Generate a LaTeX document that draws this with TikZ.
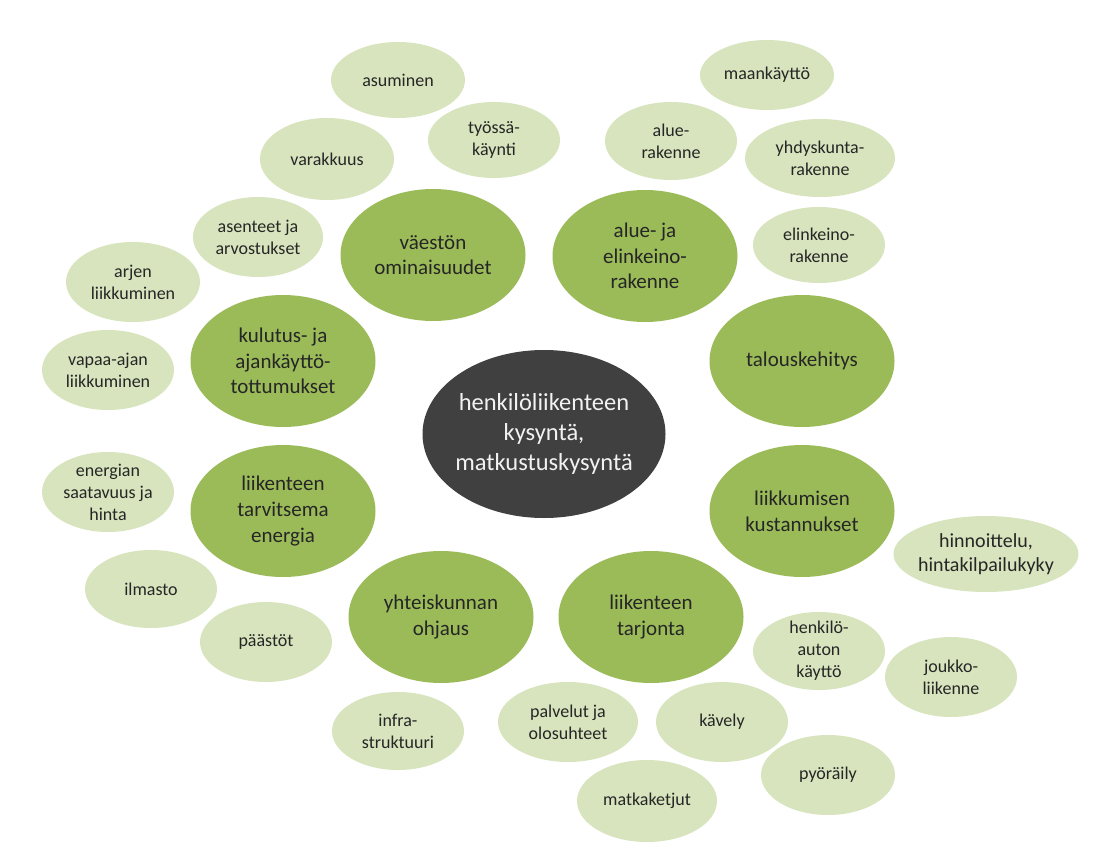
\documentclass[tikz,border=0pt]{standalone}
\usepackage{fontspec}
\setmainfont{Carlito}
\usetikzlibrary{shapes.geometric}
\definecolor{biggreen}{HTML}{9BBB59}
\definecolor{lightgreen}{HTML}{D7E4BD}
\definecolor{darkcore}{HTML}{404040}
\definecolor{inktext}{HTML}{262626}
\tikzset{
  blob/.style 2 args={ellipse, inner xsep=-6pt, inner ysep=-6pt, align=center,
     minimum width=#1, minimum height=#2},
  bigbubble/.style={blob={185pt}{132pt}, fill=biggreen, text=inktext,
     font={\fontsize{21}{25.6}\selectfont}},
  smallbubble/.style 2 args={blob={#1}{#2}, fill=lightgreen, text=inktext,
     font={\fontsize{18}{22}\selectfont}},
  corebubble/.style={blob={243pt}{168pt}, fill=darkcore, text=white!95!black,
     font={\fontsize{24.5}{30}\selectfont}}
}
\begin{document}
\begin{tikzpicture}[x=1pt,y=-1pt]
\useasboundingbox (0,0) rectangle (1113,856);
% centre
\node[corebubble] (core) at (544,434) {henkilöliikenteen\\kysyntä,\\matkustuskysyntä};
% main factors
\node[bigbubble] (vaeston) at (433,255) {väestön\\ominaisuudet};
\node[bigbubble] (alueja) at (645,256) {alue- ja\\elinkeino-\\rakenne};
\node[bigbubble] (kulutus) at (283,361) {kulutus- ja\\ajankäyttö-\\tottumukset};
\node[bigbubble] (talous) at (802,361) {talouskehitys};
\node[bigbubble] (energia) at (283,511) {liikenteen\\tarvitsema\\energia};
\node[bigbubble] (kustannukset) at (802,511) {liikkumisen\\kustannukset};
\node[bigbubble] (yhteiskunta) at (441,617) {yhteiskunnan\\ohjaus};
\node[bigbubble] (tarjonta) at (651,617) {liikenteen\\tarjonta};
% sub factors
\node[smallbubble={134pt}{76pt}] (asuminen) at (398,80) {asuminen};
\node[smallbubble={132pt}{76pt}] (tyossa) at (494,140) {työssä-\\käynti};
\node[smallbubble={134pt}{82pt}] (varakkuus) at (327,159) {varakkuus};
\node[smallbubble={130pt}{80pt}] (asenteet) at (258,237) {asenteet ja\\arvostukset};
\node[smallbubble={134pt}{80pt}] (arjen) at (133,282) {arjen\\liikkuminen};
\node[smallbubble={132pt}{80pt}] (vapaa) at (108,370) {vapaa-ajan\\liikkuminen};
\node[smallbubble={132pt}{80pt}] (energian) at (108,492) {energian\\saatavuus ja\\hinta};
\node[smallbubble={132pt}{78pt}] (ilmasto) at (151,589) {ilmasto};
\node[smallbubble={132pt}{80pt}] (paastot) at (266,642) {päästöt};
\node[smallbubble={132pt}{78pt}] (infra) at (398,731) {infra-\\struktuuri};
\node[smallbubble={140pt}{80pt}] (palvelut) at (568,722) {palvelut ja\\olosuhteet};
\node[smallbubble={132pt}{80pt}] (kavely) at (722,722) {kävely};
\node[smallbubble={140pt}{82pt}] (matkaketjut) at (647,801) {matkaketjut};
\node[smallbubble={134pt}{80pt}] (pyoraily) at (828,775) {pyöräily};
\node[smallbubble={132pt}{78pt}] (henkiloauto) at (819,651) {henkilö-\\auton\\käyttö};
\node[smallbubble={132pt}{80pt}] (joukko) at (951,677) {joukko-\\liikenne};
\node[smallbubble={185pt}{76pt}, font={\fontsize{20}{24}\selectfont}] (hinnoittelu) at (986,554) {hinnoittelu,\\hintakilpailukyky};
\node[smallbubble={134pt}{70pt}] (maankaytto) at (767,75) {maankäyttö};
\node[smallbubble={132pt}{78pt}] (aluerakenne) at (671,141) {alue-\\rakenne};
\node[smallbubble={150pt}{78pt}] (yhdyskunta) at (820,158) {yhdyskunta-\\rakenne};
\node[smallbubble={132pt}{76pt}] (elinkeino) at (819,245) {elinkeino-\\rakenne};
\end{tikzpicture}
\end{document}
